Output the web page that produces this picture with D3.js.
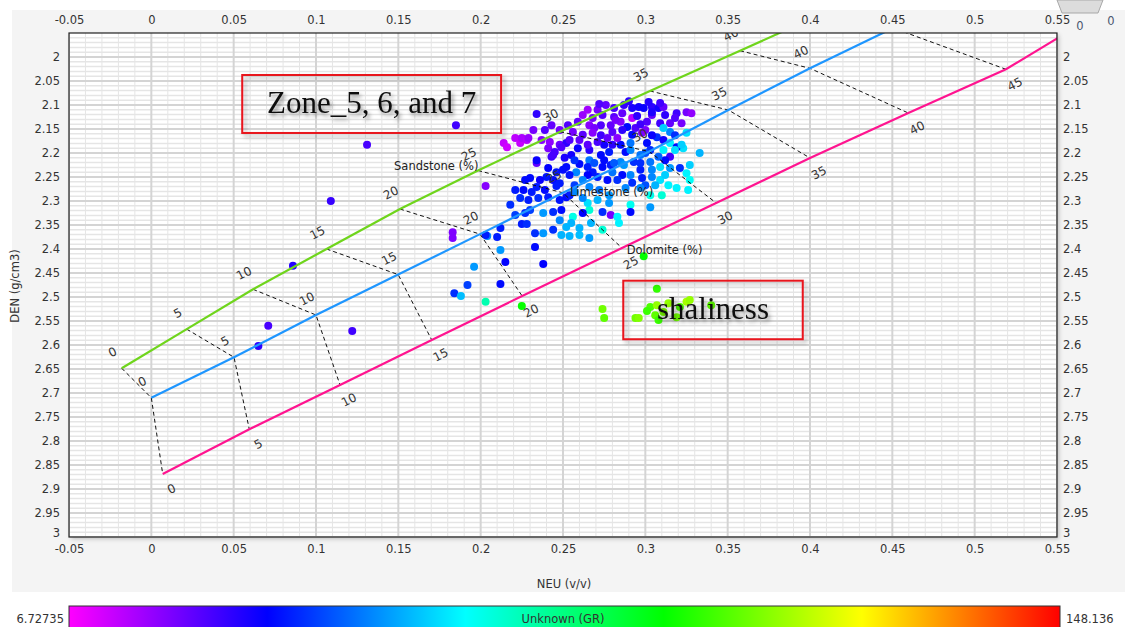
<!DOCTYPE html>
<html>
<head>
<meta charset="utf-8">
<script src="https://cdn.jsdelivr.net/npm/d3@7"></script>
<style>
  body { margin: 0; background: #ffffff; }
  svg { display: block; font-family: "DejaVu Sans", Verdana, sans-serif; }
</style>
</head>
<body>
<svg id="chart" width="1125" height="627"></svg>
<script>
// ---- axis ticks ----
const xTicks = [-0.05, 0, 0.05, 0.1, 0.15, 0.2, 0.25, 0.3, 0.35, 0.4, 0.45, 0.5, 0.55];
const yTicks = [2, 2.05, 2.1, 2.15, 2.2, 2.25, 2.3, 2.35, 2.4, 2.45, 2.5, 2.55, 2.6,
                2.65, 2.7, 2.75, 2.8, 2.85, 2.9, 2.95, 3];

// ---- lithology lines (porosity %, neutron v/v, bulk density g/cm3) ----
const porosityLevels = [0, 5, 10, 15, 20, 25, 30, 35, 40, 45];
const sandNeu = [-0.018, 0.0215, 0.0618, 0.1064, 0.151, 0.1984, 0.2482, 0.3028, 0.3575, 0.412];
const sandDen = [2.6485, 2.567, 2.484, 2.400, 2.3167, 2.2365, 2.1556, 2.0708, 1.9869, 1.903];
const limeNeu = [0, 0.0502, 0.1000, 0.1499, 0.1996, 0.25, 0.3024, 0.3504, 0.4, 0.4505];
const limeDen = [2.71, 2.6256, 2.5375, 2.4533, 2.369, 2.283, 2.197, 2.1104, 2.0236, 1.9396];
// dolomite carries one extra vertex past 45 % so the curve runs off the frame
const doloNeu = [0.0069, 0.0595, 0.1146, 0.1703, 0.2252, 0.2858, 0.343, 0.4, 0.4597, 0.519, 0.575];
const doloDen = [2.8688, 2.7756, 2.6833, 2.5896, 2.4979, 2.398, 2.304, 2.2104, 2.1167, 2.0256, 1.91];

// ---- log samples: neutron, density, gamma ray ----
const neuData = [
  0.185, 0.131, 0.109, 0.086, 0.071, 0.065, 0.122, 0.184, 0.188, 0.192,
  0.183, 0.183, 0.203, 0.196, 0.203, 0.212, 0.225, 0.299, 0.238, 0.215, 0.233,
  0.274, 0.275, 0.294, 0.296, 0.307, 0.303, 0.306, 0.308, 0.307, 0.314,
  0.319, 0.325, 0.327, 0.340, 0.311, 0.321, 0.301,
  0.214, 0.216, 0.221, 0.224, 0.225, 0.228, 0.229, 0.232, 0.234, 0.237,
  0.242, 0.241, 0.245, 0.243, 0.234, 0.248, 0.252, 0.251, 0.255,
  0.259, 0.256, 0.262, 0.265, 0.271, 0.276, 0.281, 0.287, 0.292, 0.296,
  0.299, 0.304, 0.308, 0.311, 0.319, 0.325, 0.328, 0.304, 0.309, 0.315,
  0.315, 0.325, 0.307, 0.298, 0.292, 0.300, 0.285, 0.289, 0.279, 0.273,
  0.266, 0.281, 0.292, 0.301, 0.290, 0.302, 0.272, 0.309,
  0.268, 0.274, 0.286, 0.295, 0.304, 0.312, 0.318, 0.322, 0.253, 0.248, 0.269,
  0.273, 0.280, 0.286, 0.294, 0.304, 0.311, 0.318, 0.303, 0.300, 0.288,
  0.275, 0.266, 0.259, 0.254, 0.260, 0.280,
  0.315, 0.323, 0.333, 0.319, 0.315, 0.312, 0.321, 0.309, 0.325, 0.319,
  0.303, 0.304, 0.311, 0.322, 0.326, 0.310, 0.303,
  0.298, 0.292, 0.286, 0.280, 0.279, 0.274, 0.268, 0.265, 0.266, 0.273,
  0.278, 0.285, 0.291, 0.297, 0.293, 0.285, 0.265, 0.271, 0.277, 0.283,
  0.262, 0.268, 0.291, 0.301, 0.234, 0.244, 0.249, 0.241, 0.246, 0.252,
  0.258, 0.260, 0.265, 0.240, 0.244, 0.248, 0.234, 0.231, 0.226, 0.224,
  0.229, 0.235, 0.241, 0.248, 0.252, 0.262, 0.266, 0.271, 0.277, 0.291,
  0.297, 0.309, 0.304,
  0.257, 0.269, 0.275, 0.281, 0.287, 0.297, 0.308, 0.254, 0.250, 0.283,
  0.288, 0.300, 0.306, 0.312, 0.315, 0.272, 0.278, 0.257, 0.254, 0.236, 0.230,
  0.291, 0.291, 0.279, 0.283, 0.284, 0.274, 0.266, 0.262, 0.256, 0.249,
  0.252, 0.255, 0.249, 0.244, 0.238, 0.233, 0.221, 0.238, 0.244, 0.227,
  0.210, 0.204, 0.212, 0.212, 0.265, 0.278, 0.303, 0.274, 0.267, 0.260,
  0.254, 0.203, 0.225, 0.228,
  0.239, 0.246, 0.257, 0.297, 0.262, 0.271, 0.227,
  0.221, 0.218, 0.230, 0.248, 0.260, 0.266, 0.311, 0.318, 0.327, 0.327,
  0.314, 0.282, 0.297, 0.243, 0.239
];
const denData = [
  2.142, 2.183, 2.300, 2.435, 2.560, 2.602, 2.571, 2.492, 2.498, 2.475,
  2.365, 2.377, 2.269, 2.437, 2.510, 2.473, 2.519, 2.415, 2.431, 2.427, 2.396,
  2.525, 2.544, 2.544, 2.544, 2.483, 2.521, 2.538, 2.548, 2.517, 2.513,
  2.542, 2.510, 2.506, 2.517, 2.531, 2.521, 2.529,
  2.179, 2.188, 2.169, 2.179, 2.169, 2.173, 2.169, 2.152, 2.119, 2.173,
  2.177, 2.190, 2.198, 2.208, 2.221, 2.183, 2.179, 2.210, 2.204,
  2.135, 2.156, 2.121, 2.110, 2.110, 2.100, 2.106, 2.100, 2.106, 2.104,
  2.106, 2.104, 2.106, 2.104, 2.117, 2.115, 2.117, 2.121, 2.138, 2.138,
  2.156, 2.158, 2.167, 2.158, 2.162, 2.152, 2.135, 2.146, 2.142, 2.142,
  2.142, 2.125, 2.127, 2.135, 2.092, 2.094, 2.098, 2.096,
  2.127, 2.121, 2.117, 2.123, 2.115, 2.121, 2.127, 2.138, 2.142, 2.152, 2.148,
  2.163, 2.156, 2.152, 2.148, 2.163, 2.173, 2.163, 2.194, 2.200, 2.198,
  2.183, 2.194, 2.190, 2.173, 2.173, 2.183,
  2.179, 2.190, 2.200, 2.188, 2.208, 2.215, 2.231, 2.229, 2.242, 2.273,
  2.219, 2.235, 2.194, 2.183, 2.277, 2.288, 2.313,
  2.252, 2.262, 2.246, 2.240, 2.225, 2.229, 2.240, 2.246, 2.215, 2.204,
  2.198, 2.183, 2.194, 2.204, 2.219, 2.219, 2.183, 2.177, 2.169, 2.169,
  2.162, 2.158, 2.179, 2.179, 2.215, 2.204, 2.188, 2.231, 2.240, 2.229,
  2.240, 2.223, 2.229, 2.250, 2.256, 2.263, 2.271, 2.281, 2.277, 2.294,
  2.298, 2.294, 2.292, 2.298, 2.292, 2.256, 2.271, 2.250, 2.256, 2.246,
  2.235, 2.256, 2.250,
  2.215, 2.221, 2.215, 2.221, 2.225, 2.221, 2.208, 2.246, 2.235, 2.256,
  2.273, 2.267, 2.267, 2.246, 2.231, 2.277, 2.288, 2.267, 2.288, 2.256, 2.252,
  2.308, 2.323, 2.329, 2.333, 2.346, 2.360, 2.319, 2.325, 2.333, 2.319,
  2.354, 2.346, 2.371, 2.360, 2.367, 2.367, 2.329, 2.325, 2.323, 2.325,
  2.375, 2.373, 2.356, 2.402, 2.304, 2.304, 2.288, 2.323, 2.346, 2.356,
  2.373, 2.371, 2.348, 2.348,
  2.277, 2.269, 2.281, 2.273, 2.294, 2.298, 2.256,
  2.277, 2.308, 2.319, 2.340, 2.371, 2.377, 2.148, 2.194, 2.225, 2.256,
  2.267, 2.131, 2.140, 2.142, 2.152
];
const grData = [
  28, 27, 29, 31, 27, 30, 28, 40, 56, 42,
  21, 21, 20, 52, 72, 36, 92, 92, 35, 35, 36,
  104, 102, 104, 106, 97, 100, 102, 98, 108, 108,
  104, 110, 108, 102, 105, 100, 98,
  13, 12, 14, 13, 16, 15, 18, 22, 30, 20,
  19, 21, 27, 28, 24, 23, 30, 32, 33,
  24, 22, 18, 17, 22, 24, 27, 29, 32, 33,
  34, 30, 33, 24, 28, 22, 19, 24, 28, 24,
  50, 60, 40, 20, 36, 21, 20, 36, 24, 26,
  20, 25, 14, 26, 30, 31, 26, 28,
  22, 26, 24, 30, 32, 30, 26, 22, 26, 22, 22,
  28, 25, 30, 26, 34, 33, 40, 40, 44, 36,
  33, 30, 34, 26, 24, 30,
  62, 60, 55, 36, 28, 36, 40, 60, 62, 62,
  48, 50, 62, 58, 62, 68, 52,
  38, 40, 36, 48, 38, 36, 37, 35, 48, 36,
  38, 36, 50, 48, 40, 50, 25, 27, 24, 20,
  25, 20, 48, 36, 34, 27, 26, 35, 37, 36,
  50, 36, 38, 37, 36, 38, 38, 38, 36, 40,
  38, 40, 38, 37, 36, 50, 50, 38, 36, 50,
  38, 60, 50,
  40, 44, 36, 45, 52, 40, 46, 37, 36, 40,
  50, 44, 55, 58, 52, 48, 52, 42, 38, 34, 36,
  65, 36, 22, 62, 62, 68, 68, 35, 66, 36,
  55, 55, 55, 40, 52, 40, 42, 52, 40, 40,
  38, 50, 38, 52, 60, 52, 66, 40, 55, 55,
  55, 38, 38, 40,
  36, 38, 50, 50, 50, 55, 36,
  38, 40, 42, 50, 56, 52, 58, 60, 58, 64,
  62, 22, 28, 24, 26
];

// ---- colour ramp for gamma ray ----
const grRange = [6.72735, 148.136];
const rampColors = ["#ff00ff", "#0000ff", "#00ffff", "#00ff00", "#ffff00", "#ff0000"];

// ---- text annotations ----
const lithoLabels = [
  { text: "Sandstone (%)", neu: 0.1474, den: 2.227 },
  { text: "Limestone (%)", neu: 0.2542, den: 2.2806 },
  { text: "Dolomite (%)", neu: 0.2887, den: 2.402 }
];
const noteBoxes = [
  { text: "Zone_5, 6, and 7", neu: [0.0552, 0.2124], den: [2.0375, 2.1583] },
  { text: "shaliness", neu: [0.2866, 0.3956], den: [2.466, 2.588] }
];

// ================= drawing =================
const svg = d3.select("#chart");
const plot = { left: 69, top: 33, right: 1057, bottom: 537 };
const x = d3.scaleLinear().domain([-0.05, 0.55]).range([plot.left, plot.right]);
const y = d3.scaleLinear().domain([1.95, 3]).range([plot.top, plot.bottom]);
const grStops = rampColors.map((c, i) => grRange[0] + (i / (rampColors.length - 1)) * (grRange[1] - grRange[0]));
const color = d3.scaleLinear().domain(grStops).range(rampColors);
const fmt = d => String(+d.toFixed(2));

const defs = svg.append("defs");
defs.append("clipPath").attr("id", "plotClip")
  .append("rect")
  .attr("x", plot.left).attr("y", plot.top)
  .attr("width", plot.right - plot.left).attr("height", plot.bottom - plot.top);

const frameShadow = defs.append("filter").attr("id", "frameShadow")
  .attr("x", "-5%").attr("y", "-5%").attr("width", "110%").attr("height", "110%");
frameShadow.append("feDropShadow").attr("dx", 2).attr("dy", 2).attr("stdDeviation", 2)
  .attr("flood-color", "#000").attr("flood-opacity", 0.22);

const boxShadow = defs.append("filter").attr("id", "boxShadow")
  .attr("x", "-10%").attr("y", "-20%").attr("width", "120%").attr("height", "140%");
boxShadow.append("feDropShadow").attr("dx", 3).attr("dy", 3).attr("stdDeviation", 2)
  .attr("flood-color", "#000").attr("flood-opacity", 0.3);

const textShadow = defs.append("filter").attr("id", "textShadow")
  .attr("x", "-10%").attr("y", "-30%").attr("width", "120%").attr("height", "160%");
textShadow.append("feDropShadow").attr("dx", 2).attr("dy", 3).attr("stdDeviation", 2)
  .attr("flood-color", "#000").attr("flood-opacity", 0.45);

const grad = defs.append("linearGradient").attr("id", "grRamp")
  .attr("x1", "0%").attr("x2", "100%").attr("y1", "0%").attr("y2", "0%");
rampColors.forEach((c, i) => {
  grad.append("stop").attr("offset", (i / (rampColors.length - 1)) * 100 + "%").attr("stop-color", c);
});

// panel background
svg.append("rect").attr("x", 12).attr("y", 10).attr("width", 1113).attr("height", 582)
  .attr("fill", "#f4f4f4");

// plot area
svg.append("rect")
  .attr("x", plot.left).attr("y", plot.top)
  .attr("width", plot.right - plot.left).attr("height", plot.bottom - plot.top)
  .attr("fill", "#ffffff").attr("filter", "url(#frameShadow)");

// grid
const grid = svg.append("g").attr("clip-path", "url(#plotClip)");
const minorX = d3.range(61).filter(i => i % 5 !== 0).map(i => -0.05 + i * 0.01);
const minorY = d3.range(106).filter(i => i % 5 !== 0).map(i => 1.95 + i * 0.01);
grid.selectAll("line.mx").data(minorX).join("line")
  .attr("x1", d => x(d)).attr("x2", d => x(d))
  .attr("y1", plot.top).attr("y2", plot.bottom)
  .attr("stroke", "#e5e5e5").attr("stroke-width", 1);
grid.selectAll("line.my").data(minorY).join("line")
  .attr("y1", d => y(d)).attr("y2", d => y(d))
  .attr("x1", plot.left).attr("x2", plot.right)
  .attr("stroke", "#e5e5e5").attr("stroke-width", 1.5);
grid.selectAll("line.Mx").data(xTicks).join("line")
  .attr("x1", d => x(d)).attr("x2", d => x(d))
  .attr("y1", plot.top).attr("y2", plot.bottom)
  .attr("stroke", "#d4d4d4").attr("stroke-width", 2);
grid.selectAll("line.My").data(yTicks).join("line")
  .attr("y1", d => y(d)).attr("y2", d => y(d))
  .attr("x1", plot.left).attr("x2", plot.right)
  .attr("stroke", "#d4d4d4").attr("stroke-width", 2);

// samples
const samples = neuData.map((n, i) => ({ neu: n, den: denData[i], gr: grData[i] }));
const dots = svg.append("g").attr("clip-path", "url(#plotClip)");
dots.selectAll("circle").data(samples).join("circle")
  .attr("cx", d => x(d.neu)).attr("cy", d => y(d.den)).attr("r", 4)
  .attr("fill", d => color(d.gr));

// lithology lines and iso-porosity connectors
const overlay = svg.append("g").attr("clip-path", "url(#plotClip)");
const lineGen = d3.line().x(d => x(d[0])).y(d => y(d[1]));
const lithos = [
  { neu: sandNeu, den: sandDen, stroke: "#6fd51c", side: -1 },
  { neu: limeNeu, den: limeDen, stroke: "#1e96ff", side: -1 },
  { neu: doloNeu, den: doloDen, stroke: "#ff1490", side: 1 }
];

porosityLevels.forEach((p, i) => {
  const pts = lithos.map(l => [l.neu[i], l.den[i]]);
  overlay.append("path").attr("d", lineGen(pts))
    .attr("fill", "none").attr("stroke", "#111").attr("stroke-width", 1)
    .attr("stroke-dasharray", "4,3");
});

lithos.forEach(l => {
  overlay.append("path").attr("d", lineGen(l.neu.map((n, i) => [n, l.den[i]])))
    .attr("fill", "none").attr("stroke", l.stroke).attr("stroke-width", 2.2);
});

lithos.forEach(l => {
  porosityLevels.forEach((p, i) => {
    const px = x(l.neu[i]), py = y(l.den[i]);
    const ox = l.side < 0 ? -9 : 9, oy = l.side < 0 ? -16 : 15;
    if (py + oy < plot.top - 4) return;   // label falls outside the frame
    overlay.append("text")
      .attr("transform", `translate(${px + ox},${py + oy}) rotate(-27)`)
      .attr("text-anchor", "middle").attr("dominant-baseline", "central")
      .attr("font-size", 12).attr("fill", "#333")
      .text(p);
  });
});

lithoLabels.forEach(t => {
  overlay.append("text")
    .attr("x", x(t.neu)).attr("y", y(t.den))
    .attr("dominant-baseline", "central")
    .attr("font-size", 11.5).attr("fill", "#222")
    .text(t.text);
});

// frame
svg.append("rect")
  .attr("x", plot.left).attr("y", plot.top)
  .attr("width", plot.right - plot.left).attr("height", plot.bottom - plot.top)
  .attr("fill", "none").attr("stroke", "#222").attr("stroke-width", 1.2);

// axes
function styleAxis(g) {
  g.select(".domain").remove();
  g.selectAll(".tick line").remove();
  g.selectAll(".tick text").attr("fill", "#333").attr("font-size", 11.5)
    .attr("font-family", '"DejaVu Sans", Verdana, sans-serif');
}
svg.append("g").attr("transform", `translate(0,${plot.bottom})`)
  .call(d3.axisBottom(x).tickValues(xTicks).tickFormat(fmt).tickSize(0).tickPadding(8))
  .call(styleAxis);
svg.append("g").attr("transform", `translate(0,${plot.top})`)
  .call(d3.axisTop(x).tickValues(xTicks).tickFormat(fmt).tickSize(0).tickPadding(9))
  .call(styleAxis);
const leftAxis = svg.append("g").attr("transform", `translate(${plot.left},0)`)
  .call(d3.axisLeft(y).tickValues(yTicks).tickFormat(fmt).tickSize(0).tickPadding(9))
  .call(styleAxis);
const rightAxis = svg.append("g").attr("transform", `translate(${plot.right},0)`)
  .call(d3.axisRight(y).tickValues(yTicks).tickFormat(fmt).tickSize(0).tickPadding(6))
  .call(styleAxis);
// the last density label sits a little higher so it clears the bottom scale
[leftAxis, rightAxis].forEach(g => g.selectAll(".tick text").filter(d => d === 3).attr("dy", "-0.05em"));

// axis titles
svg.append("text").attr("x", 564).attr("y", 588).attr("text-anchor", "middle")
  .attr("font-size", 11.5).attr("fill", "#333").text("NEU (v/v)");
svg.append("text").attr("transform", "translate(19,286) rotate(-90)")
  .attr("text-anchor", "middle").attr("font-size", 11.5).attr("fill", "#333")
  .text("DEN (g/cm3)");

// annotation boxes
noteBoxes.forEach(b => {
  const x0 = x(b.neu[0]), x1 = x(b.neu[1]);
  const y0 = y(b.den[0]), y1 = y(b.den[1]);
  svg.append("rect").attr("x", x0).attr("y", y0)
    .attr("width", x1 - x0).attr("height", y1 - y0)
    .attr("fill", "none").attr("stroke", "#e8141c").attr("stroke-width", 2)
    .attr("filter", "url(#boxShadow)");
  svg.append("text").attr("x", (x0 + x1) / 2).attr("y", y0 + 38)
    .attr("text-anchor", "middle")
    .attr("font-family", '"Liberation Serif", "Times New Roman", serif')
    .attr("font-size", 31).attr("fill", "#111")
    .attr("filter", "url(#textShadow)")
    .text(b.text);
});

// colour bar
const barX = 69, barW = 991, barY = 606;
svg.append("rect").attr("x", barX).attr("y", barY).attr("width", barW).attr("height", 26)
  .attr("fill", "url(#grRamp)").attr("stroke", "#333").attr("stroke-width", 1);
svg.append("text").attr("x", 64).attr("y", 623).attr("text-anchor", "end")
  .attr("font-size", 11.5).attr("fill", "#333").text(grRange[0]);
svg.append("text").attr("x", 1066).attr("y", 623).attr("text-anchor", "start")
  .attr("font-size", 11.5).attr("fill", "#333").text(grRange[1]);
svg.append("text").attr("x", 563).attr("y", 623).attr("text-anchor", "middle")
  .attr("font-size", 11.5).attr("fill", "#333").text("Unknown (GR)");

// small control tab in the corner
svg.append("path").attr("d", "M1057,0 L1062,13 L1098,13 L1103,0 Z")
  .attr("fill", "#dcdcdc").attr("stroke", "#a8a8a8").attr("stroke-width", 1);
svg.append("text").attr("x", 1080).attr("y", 30).attr("text-anchor", "middle")
  .attr("font-size", 11.5).attr("fill", "#4a5670").text("0");
svg.append("text").attr("x", 1111).attr("y", 25).attr("text-anchor", "middle")
  .attr("font-size", 11.5).attr("fill", "#4a5670").text("0");
</script>
</body>
</html>
